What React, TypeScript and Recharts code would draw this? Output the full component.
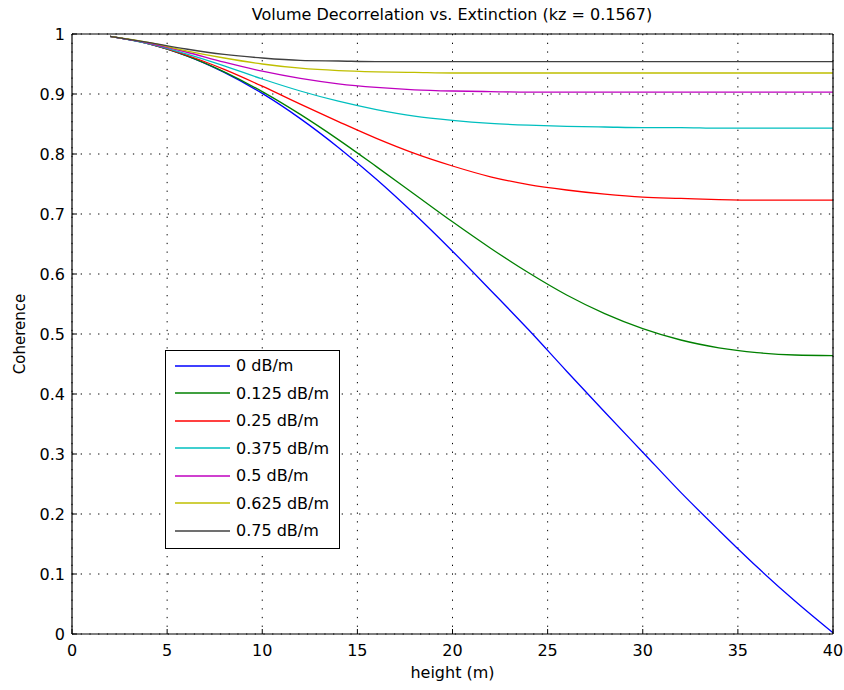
import React from 'react';
import { LineChart, Line, XAxis, YAxis, CartesianGrid, Legend } from 'recharts';

const heights = [2, 4, 6, 8, 10, 12, 14, 16, 18, 20, 22, 24, 26, 28, 30, 32, 34, 36, 38, 40];
const coh000 = [0.996, 0.984, 0.964, 0.936, 0.901, 0.859, 0.811, 0.758, 0.700, 0.638, 0.573, 0.507, 0.438, 0.370, 0.303, 0.236, 0.173, 0.112, 0.055, 0.002];
const coh0125 = [0.996, 0.984, 0.964, 0.937, 0.904, 0.866, 0.824, 0.779, 0.733, 0.687, 0.643, 0.602, 0.565, 0.534, 0.509, 0.490, 0.477, 0.469, 0.465, 0.464];
const coh025 = [0.996, 0.984, 0.965, 0.941, 0.913, 0.883, 0.854, 0.826, 0.801, 0.780, 0.762, 0.749, 0.740, 0.733, 0.728, 0.726, 0.724, 0.723, 0.723, 0.723];
const coh0375 = [0.996, 0.984, 0.967, 0.947, 0.925, 0.905, 0.888, 0.874, 0.863, 0.856, 0.851, 0.848, 0.846, 0.845, 0.844, 0.844, 0.843, 0.843, 0.843, 0.843];
const coh05 = [0.996, 0.985, 0.970, 0.953, 0.938, 0.926, 0.917, 0.911, 0.907, 0.905, 0.904, 0.903, 0.903, 0.903, 0.903, 0.903, 0.903, 0.903, 0.903, 0.903];
const coh0625 = [0.996, 0.986, 0.972, 0.960, 0.950, 0.943, 0.939, 0.937, 0.936, 0.935, 0.935, 0.935, 0.935, 0.935, 0.935, 0.935, 0.935, 0.935, 0.935, 0.935];
const coh075 = [0.996, 0.986, 0.975, 0.966, 0.960, 0.956, 0.955, 0.954, 0.954, 0.954, 0.954, 0.954, 0.954, 0.954, 0.954, 0.954, 0.954, 0.954, 0.954, 0.954];

const seriesNames = ['0 dB/m', '0.125 dB/m', '0.25 dB/m', '0.375 dB/m', '0.5 dB/m', '0.625 dB/m', '0.75 dB/m'];
const seriesColors = ['#0000ff', '#008000', '#ff0000', '#00bfbf', '#bf00bf', '#bfbf00', '#404040'];
const xTicks = [0, 5, 10, 15, 20, 25, 30, 35, 40];
const yTicks = [0, 0.1, 0.2, 0.3, 0.4, 0.5, 0.6, 0.7, 0.8, 0.9, 1];
const titleText = 'Volume Decorrelation vs. Extinction (kz = 0.1567)';
const xLabel = 'height (m)';
const yLabel = 'Coherence';

const seriesValues = [coh000, coh0125, coh025, coh0375, coh05, coh0625, coh075];
const data = heights.map((h, i) => {
  const row: Record<string, number> = { h };
  seriesValues.forEach((vals, j) => {
    row['s' + j] = vals[i];
  });
  return row;
});

const FONT = '"DejaVu Sans", sans-serif';
const tickStyle = { fontSize: 16, fill: '#000', fontFamily: FONT };

function LegendBox(props: any) {
  const payload = props.payload || [];
  return (
    <div
      style={{
        border: '1px solid #000',
        background: '#fff',
        width: 173,
        padding: '1px 0 3px 0',
        fontFamily: FONT,
        fontSize: 16,
        color: '#000',
        boxSizing: 'content-box',
      }}
    >
      {payload.map((p: any) => (
        <div key={p.value} style={{ display: 'flex', alignItems: 'center', height: 27.5 }}>
          <svg width={70} height={6} style={{ display: 'block' }}>
            <line x1={9} y1={3} x2={64} y2={3} stroke={p.color} strokeWidth={1.3} />
          </svg>
          <span style={{ whiteSpace: 'nowrap' }}>{p.value}</span>
        </div>
      ))}
    </div>
  );
}

function YLabel(props: any) {
  const vb = props.viewBox || { x: 0, y: 0, width: 0, height: 0 };
  const cy = vb.y + vb.height / 2;
  const x = 25;
  return (
    <text
      x={x}
      y={cy}
      transform={`rotate(-90 ${x} ${cy})`}
      textAnchor="middle"
      fontSize={15}
      fontFamily={FONT}
      fill="#000"
    >
      {yLabel}
    </text>
  );
}

export default function App() {
  return (
    <div style={{ position: 'absolute', left: 0, top: 0, width: 844, height: 690, background: '#fff' }}>
      <div
        style={{
          position: 'absolute',
          left: 452,
          top: 7,
          transform: 'translateX(-50%)',
          fontFamily: FONT,
          fontSize: 16,
          lineHeight: '16px',
          whiteSpace: 'nowrap',
          color: '#000',
          zIndex: 2,
        }}
      >
        {titleText}
      </div>
      <LineChart
        width={844}
        height={690}
        data={data}
        margin={{ top: 33, right: 10, bottom: 6, left: 0 }}
      >
        <CartesianGrid stroke="#000" strokeDasharray="1.3 7.4" strokeWidth={1} />
        <XAxis
          dataKey="h"
          type="number"
          domain={[0, 40]}
          ticks={xTicks}
          interval={0}
          height={50}
          tickSize={-5}
          tickMargin={16}
          stroke="#000"
          tick={tickStyle}
          axisLine={{ stroke: '#000', strokeWidth: 1.2 }}
          tickLine={{ stroke: '#000' }}
          label={{ value: xLabel, position: 'insideBottom', offset: 6, fontSize: 16, fontFamily: FONT, fill: '#000' }}
        />
        <XAxis
          xAxisId="top"
          orientation="top"
          type="number"
          domain={[0, 40]}
          ticks={xTicks}
          interval={0}
          height={1}
          tickSize={-5}
          tick={false}
          axisLine={{ stroke: '#000', strokeWidth: 1.2 }}
          tickLine={{ stroke: '#000' }}
        />
        <YAxis
          type="number"
          domain={[0, 1]}
          ticks={yTicks}
          interval={0}
          width={72}
          tickSize={-5}
          tickMargin={12}
          tick={tickStyle}
          axisLine={{ stroke: '#000', strokeWidth: 1.2 }}
          tickLine={{ stroke: '#000' }}
          label={{ content: YLabel }}
        />
        <YAxis
          yAxisId="right"
          orientation="right"
          type="number"
          domain={[0, 1]}
          ticks={yTicks}
          interval={0}
          width={1}
          tickSize={-5}
          tick={false}
          axisLine={{ stroke: '#000', strokeWidth: 1.2 }}
          tickLine={{ stroke: '#000' }}
        />
        <Legend
          layout="vertical"
          align="center"
          verticalAlign="middle"
          content={<LegendBox />}
          wrapperStyle={{ left: 165, top: 350, width: 'auto' }}
        />
        {seriesNames.map((name, j) => (
          <Line
            key={name}
            type="monotone"
            dataKey={'s' + j}
            name={name}
            stroke={seriesColors[j]}
            strokeWidth={1.3}
            dot={false}
            activeDot={false}
            isAnimationActive={false}
          />
        ))}
      </LineChart>
    </div>
  );
}
